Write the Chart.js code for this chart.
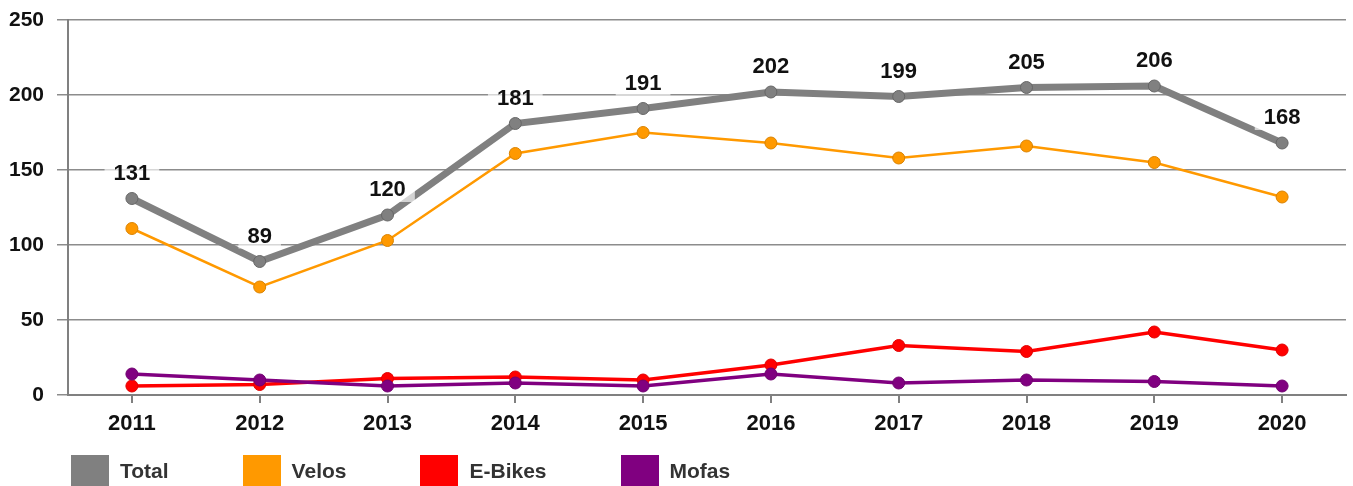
<!DOCTYPE html>
<html>
<head>
<meta charset="utf-8">
<script src="https://cdn.jsdelivr.net/npm/chart.js@4.4.1/dist/chart.umd.min.js"></script>
<style>
  html, body { margin: 0; padding: 0; background: #fff; }
  #wrap { position: relative; width: 1353px; height: 486px; overflow: hidden; }
  #legend { position: absolute; left: 71px; top: 455px; display: flex; align-items: flex-start;
            font: bold 21px "Liberation Sans", Arial, sans-serif; color: #333; }
  #legend .item { display: flex; align-items: flex-start; margin-right: 74px; }
  #legend .box { width: 38px; height: 40px; margin-right: 11px; }
  #legend .txt { line-height: 32px; }
</style>
</head>
<body>
<div id="wrap">
  <canvas id="grafico" width="1353" height="486"></canvas>
  <div id="legend"></div>
</div>
<script>
// Daten
const jahre = ['2011', '2012', '2013', '2014', '2015', '2016', '2017', '2018', '2019', '2020'];
const total = [131, 89, 120, 181, 191, 202, 199, 205, 206, 168];
const velos = [111, 72, 103, 161, 175, 168, 158, 166, 155, 132];
const eBikes = [6, 7, 11, 12, 10, 20, 33, 29, 42, 30];
const mofas = [14, 10, 6, 8, 6, 14, 8, 10, 9, 6];
const yTicks = [0, 50, 100, 150, 200, 250];

const schrift = '"Liberation Sans", Arial, sans-serif';

// Werte über der Total-Linie mit halbtransparentem weissem Hintergrund
const totalLabels = {
    id: 'totalLabels',
    afterDatasetsDraw(chart) {
        const meta = chart.getDatasetMeta(0);
        const ctx = chart.ctx;
        ctx.save();
        ctx.font = 'bold 22px ' + schrift;
        ctx.textAlign = 'center';
        ctx.textBaseline = 'middle';
        meta.data.forEach((pt, i) => {
            const txt = String(chart.data.datasets[0].data[i]);
            const w = ctx.measureText(txt).width + 18;
            const y = pt.y - 25;
            ctx.fillStyle = 'rgba(255,255,255,0.65)';
            ctx.fillRect(pt.x - w / 2, y - 12, w, 24);
            ctx.fillStyle = '#111';
            ctx.fillText(txt, pt.x, y);
        });
        ctx.restore();
    }
};

const datasets = [
    { label: 'Total', data: total, borderColor: '#808080', backgroundColor: '#808080',
      borderWidth: 7, pointRadius: 6, pointBorderColor: '#666', pointBorderWidth: 1, order: 1 },
    { label: 'Velos', data: velos, borderColor: '#FF9900', backgroundColor: '#FF9900',
      borderWidth: 2.5, pointRadius: 6, pointBorderColor: '#d98200', pointBorderWidth: 1, order: 2 },
    { label: 'E-Bikes', data: eBikes, borderColor: '#FF0000', backgroundColor: '#FF0000',
      borderWidth: 3.5, pointRadius: 6, pointBorderColor: '#e00000', pointBorderWidth: 1, order: 4 },
    { label: 'Mofas', data: mofas, borderColor: '#800080', backgroundColor: '#800080',
      borderWidth: 3.5, pointRadius: 6, pointBorderColor: '#700070', pointBorderWidth: 1, order: 3 }
];

new Chart(document.getElementById('grafico'), {
    type: 'line',
    data: { labels: jahre, datasets: datasets },
    options: {
        responsive: false,
        animation: false,
        layout: { padding: { top: 20, right: 6, bottom: 46, left: 0 } },
        plugins: { legend: { display: false }, tooltip: { enabled: false } },
        elements: { line: { tension: 0 } },
        scales: {
            x: {
                offset: true,
                grid: { display: true, offset: false, drawOnChartArea: false, tickLength: 8,
                        color: '#808080', lineWidth: 2 },
                border: { display: true, color: '#808080', width: 2 },
                ticks: { color: '#111', padding: 8, font: { family: schrift, size: 22, weight: 'bold' } },
                afterFit(scale) { scale.height = 45; }
            },
            y: {
                min: 0, max: 250,
                afterBuildTicks(scale) { scale.ticks = yTicks.map(v => ({ value: v })); },
                grid: { color: '#8c8c8c', lineWidth: 1.5, tickLength: 11 },
                border: { display: true, color: '#808080', width: 2 },
                ticks: { color: '#111', padding: 13, font: { family: schrift, size: 21, weight: 'bold' } },
                afterFit(scale) {
                    scale.width = 68;
                    scale.paddingTop = 0;
                    scale.paddingBottom = 0;
                }
            }
        }
    },
    plugins: [totalLabels]
});

// Legende unten links
const legend = document.getElementById('legend');
datasets.forEach(ds => {
    const item = document.createElement('div');
    item.className = 'item';
    item.innerHTML = '<span class="box" style="background:' + ds.borderColor + '"></span>' +
                     '<span class="txt">' + ds.label + '</span>';
    legend.appendChild(item);
});
</script>
</body>
</html>
